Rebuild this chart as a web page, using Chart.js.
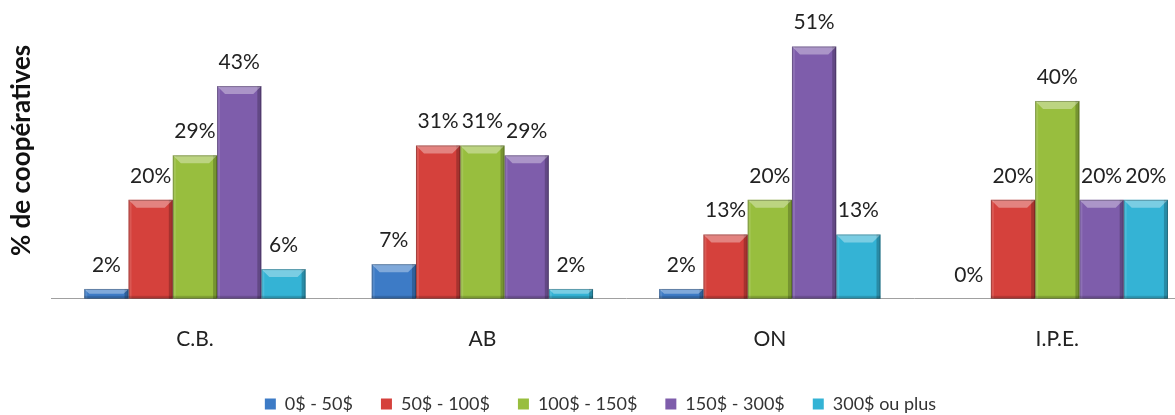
<!DOCTYPE html>
<html>
<head>
<meta charset="utf-8">
<script src="https://cdn.jsdelivr.net/npm/chart.js@4"></script>
<style>
  html, body { margin: 0; padding: 0; background: #fff; overflow: hidden; }
  #wrap { width: 1210px; height: 423px; }
</style>
</head>
<body>
<div id="wrap"><canvas id="chart"></canvas></div>
<script>
const provinces = ['C.B.', 'AB', 'ON', 'I.P.E.']
const bandLabels = ['0$ - 50$', '50$ - 100$', '100$ - 150$', '150$ - 300$', '300$ ou plus']

// % de coopératives par tranche, dans l'ordre des provinces
const band0to50 = [2, 7, 2, 0]
const band50to100 = [20, 31, 13, 20]
const band100to150 = [29, 31, 20, 40]
const band150to300 = [43, 29, 51, 20]
const band300plus = [6, 2, 13, 20]

const bandColors = ['#3d7bc6', '#d5413c', '#98be3e', '#7e5dab', '#34b3d5']

const FONT = 'Lato, "Open Sans", sans-serif'

// bevel look + value labels on top of each bar
const bevelPlugin = {
  id: 'bevel',
  afterDatasetsDraw(chart) {
    const ctx = chart.ctx
    ctx.save()
    chart.data.datasets.forEach((ds, i) => {
      const meta = chart.getDatasetMeta(i)
      meta.data.forEach((bar, j) => {
        const p = bar.getProps(['x', 'y', 'base', 'width'], true)
        const left = p.x - p.width / 2
        const right = p.x + p.width / 2
        const h = p.base - p.y
        if (h > 1) {
          const b = Math.min(8, h / 2)
          ctx.fillStyle = 'rgba(255,255,255,0.12)'
          ctx.fillRect(left, p.y, 3, h)
          ctx.fillStyle = 'rgba(0,0,0,0.22)'
          ctx.fillRect(right - 4, p.y, 4, h)
          ctx.fillStyle = 'rgba(0,0,0,0.15)'
          ctx.fillRect(left, p.base - 3, p.width, 3)
          ctx.fillStyle = 'rgba(255,255,255,0.35)'
          ctx.beginPath()
          ctx.moveTo(left, p.y)
          ctx.lineTo(right, p.y)
          ctx.lineTo(right - b, p.y + b)
          ctx.lineTo(left + b, p.y + b)
          ctx.closePath()
          ctx.fill()
          ctx.strokeStyle = 'rgba(0,0,0,0.25)'
          ctx.lineWidth = 1
          ctx.strokeRect(left + 0.5, p.y + 0.5, p.width - 1, h - 1)
        }
        ctx.fillStyle = '#222'
        ctx.font = '21px ' + FONT
        ctx.textAlign = 'center'
        ctx.textBaseline = 'middle'
        ctx.fillText(ds.data[j] + '%', p.x, p.y - 24)
      })
    })
    ctx.restore()
  }
}

const series = [band0to50, band50to100, band100to150, band150to300, band300plus]

new Chart(document.getElementById('chart'), {
  type: 'bar',
  data: {
    labels: provinces,
    datasets: series.map((values, i) => ({
      label: bandLabels[i],
      data: values,
      backgroundColor: bandColors[i],
      borderWidth: 0,
      barPercentage: 1,
      categoryPercentage: 0.77
    }))
  },
  options: {
    responsive: true,
    maintainAspectRatio: false,
    animation: false,
    layout: { padding: { top: 2, right: 9, left: 0, bottom: 0 } },
    scales: {
      x: {
        grid: { display: false, drawTicks: false },
        border: { display: true, color: '#a0a0a0', width: 1 },
        ticks: { color: '#222', font: { family: FONT, size: 21 }, padding: 28 },
        afterFit(scale) { scale.height -= 13 }
      },
      y: {
        min: 0,
        max: 60,
        grid: { display: false, drawTicks: false },
        border: { display: false },
        ticks: { display: false },
        title: {
          display: true,
          text: '% de coopératives',
          color: '#111',
          font: { family: FONT, size: 26, weight: 'bold' },
          padding: { top: 6, bottom: 14 }
        }
      }
    },
    plugins: {
      legend: {
        position: 'bottom',
        labels: {
          color: '#333',
          font: { family: FONT, size: 18 },
          boxWidth: 11,
          boxHeight: 11,
          padding: 28
        }
      },
      tooltip: { enabled: false }
    }
  },
  plugins: [bevelPlugin]
})
</script>
</body>
</html>
